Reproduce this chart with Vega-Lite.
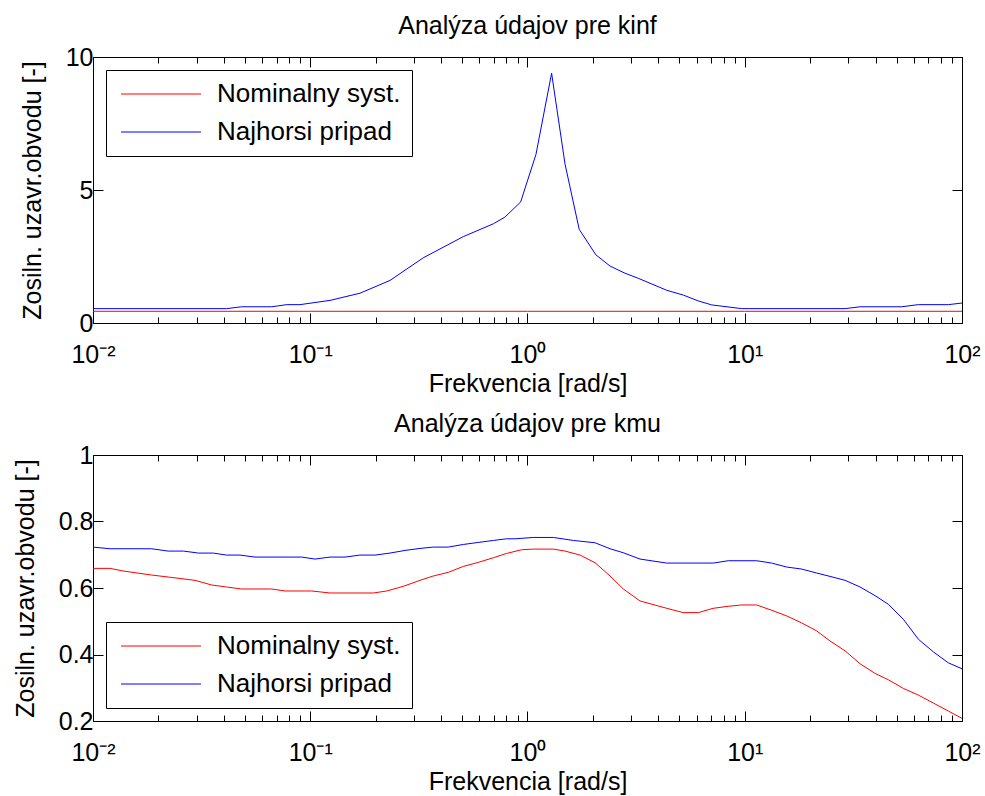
{
  "$schema": "https://vega.github.io/schema/vega-lite/v6.json",
  "padding": {"left": 12, "top": 13, "right": 5, "bottom": 0},
  "spacing": 14,
  "config": {
    "font": "Liberation Sans",
    "view": {"stroke": "black", "strokeWidth": 1},
    "axis": {
      "labelFont": "Liberation Sans",
      "labelFontSize": 25,
      "labelColor": "black",
      "titleFont": "Liberation Sans",
      "titleFontSize": 25,
      "titleFontWeight": "normal",
      "titleColor": "black",
      "grid": false,
      "domain": false,
      "tickColor": "black",
      "tickWidth": 1,
      "labelOverlap": false,
      "labelBound": false,
      "labelFlush": false
    },
    "title": {"font": "Liberation Sans", "fontSize": 25, "fontWeight": "normal", "color": "black", "offset": 6},
    "legend": {
      "title": null,
      "labelFont": "Liberation Sans",
      "labelFontSize": 26,
      "labelColor": "black",
      "labelLimit": 400,
      "padding": 11,
      "strokeColor": "black",
      "fillColor": "white",
      "symbolType": "M-4,0H4",
      "symbolSize": 400,
      "symbolStrokeWidth": 1,
      "symbolOffset": 31,
      "labelOffset": 43,
      "rowPadding": 12,
      "offset": 13
    }
  },
  "datasets": {
    "kinf": [
      {"f": 0.01, "v": 0.44, "series": "Nominalny syst."},
      {"f": 0.1, "v": 0.44, "series": "Nominalny syst."},
      {"f": 1, "v": 0.44, "series": "Nominalny syst."},
      {"f": 10, "v": 0.44, "series": "Nominalny syst."},
      {"f": 100, "v": 0.44, "series": "Nominalny syst."},
      {"f": 0.01, "v": 0.54, "series": "Najhorsi pripad"},
      {"f": 0.0412, "v": 0.54, "series": "Najhorsi pripad"},
      {"f": 0.0483, "v": 0.61, "series": "Najhorsi pripad"},
      {"f": 0.0665, "v": 0.61, "series": "Najhorsi pripad"},
      {"f": 0.078, "v": 0.69, "series": "Najhorsi pripad"},
      {"f": 0.0897, "v": 0.69, "series": "Najhorsi pripad"},
      {"f": 0.1233, "v": 0.85, "series": "Najhorsi pripad"},
      {"f": 0.1694, "v": 1.12, "series": "Najhorsi pripad"},
      {"f": 0.2328, "v": 1.6, "series": "Najhorsi pripad"},
      {"f": 0.3311, "v": 2.45, "series": "Najhorsi pripad"},
      {"f": 0.507, "v": 3.25, "series": "Najhorsi pripad"},
      {"f": 0.6966, "v": 3.73, "series": "Najhorsi pripad"},
      {"f": 0.787, "v": 3.98, "series": "Najhorsi pripad"},
      {"f": 0.93, "v": 4.55, "series": "Najhorsi pripad"},
      {"f": 1.094, "v": 6.34, "series": "Najhorsi pripad"},
      {"f": 1.291, "v": 9.39, "series": "Najhorsi pripad"},
      {"f": 1.489, "v": 5.97, "series": "Najhorsi pripad"},
      {"f": 1.73, "v": 3.52, "series": "Najhorsi pripad"},
      {"f": 2.065, "v": 2.56, "series": "Najhorsi pripad"},
      {"f": 2.399, "v": 2.14, "series": "Najhorsi pripad"},
      {"f": 2.812, "v": 1.87, "series": "Najhorsi pripad"},
      {"f": 3.236, "v": 1.68, "series": "Najhorsi pripad"},
      {"f": 4.375, "v": 1.23, "series": "Najhorsi pripad"},
      {"f": 5.212, "v": 1.05, "series": "Najhorsi pripad"},
      {"f": 6.109, "v": 0.83, "series": "Najhorsi pripad"},
      {"f": 7.047, "v": 0.68, "series": "Najhorsi pripad"},
      {"f": 9.683, "v": 0.54, "series": "Najhorsi pripad"},
      {"f": 28.97, "v": 0.54, "series": "Najhorsi pripad"},
      {"f": 33.96, "v": 0.61, "series": "Najhorsi pripad"},
      {"f": 52.72, "v": 0.61, "series": "Najhorsi pripad"},
      {"f": 62.95, "v": 0.69, "series": "Najhorsi pripad"},
      {"f": 86.5, "v": 0.69, "series": "Najhorsi pripad"},
      {"f": 100, "v": 0.75, "series": "Najhorsi pripad"}
    ],
    "kmu": [
      {"f": 0.01, "v": 0.659, "series": "Nominalny syst."},
      {"f": 0.012, "v": 0.659, "series": "Nominalny syst."},
      {"f": 0.0138, "v": 0.651, "series": "Nominalny syst."},
      {"f": 0.0186, "v": 0.639, "series": "Nominalny syst."},
      {"f": 0.0222, "v": 0.633, "series": "Nominalny syst."},
      {"f": 0.0295, "v": 0.623, "series": "Nominalny syst."},
      {"f": 0.0352, "v": 0.609, "series": "Nominalny syst."},
      {"f": 0.0412, "v": 0.603, "series": "Nominalny syst."},
      {"f": 0.0483, "v": 0.597, "series": "Nominalny syst."},
      {"f": 0.0665, "v": 0.597, "series": "Nominalny syst."},
      {"f": 0.0766, "v": 0.591, "series": "Nominalny syst."},
      {"f": 0.1016, "v": 0.591, "series": "Nominalny syst."},
      {"f": 0.1233, "v": 0.585, "series": "Nominalny syst."},
      {"f": 0.195, "v": 0.585, "series": "Nominalny syst."},
      {"f": 0.2249, "v": 0.591, "series": "Nominalny syst."},
      {"f": 0.2679, "v": 0.605, "series": "Nominalny syst."},
      {"f": 0.3199, "v": 0.623, "series": "Nominalny syst."},
      {"f": 0.3681, "v": 0.636, "series": "Nominalny syst."},
      {"f": 0.4315, "v": 0.647, "series": "Nominalny syst."},
      {"f": 0.507, "v": 0.665, "series": "Nominalny syst."},
      {"f": 0.5929, "v": 0.677, "series": "Nominalny syst."},
      {"f": 0.6966, "v": 0.691, "series": "Nominalny syst."},
      {"f": 0.8017, "v": 0.704, "series": "Nominalny syst."},
      {"f": 0.9397, "v": 0.715, "series": "Nominalny syst."},
      {"f": 1.064, "v": 0.717, "series": "Nominalny syst."},
      {"f": 1.315, "v": 0.717, "series": "Nominalny syst."},
      {"f": 1.489, "v": 0.711, "series": "Nominalny syst."},
      {"f": 1.746, "v": 0.699, "series": "Nominalny syst."},
      {"f": 2.046, "v": 0.676, "series": "Nominalny syst."},
      {"f": 2.399, "v": 0.636, "series": "Nominalny syst."},
      {"f": 2.761, "v": 0.597, "series": "Nominalny syst."},
      {"f": 3.296, "v": 0.561, "series": "Nominalny syst."},
      {"f": 4.375, "v": 0.539, "series": "Nominalny syst."},
      {"f": 5.212, "v": 0.526, "series": "Nominalny syst."},
      {"f": 6.109, "v": 0.526, "series": "Nominalny syst."},
      {"f": 7.161, "v": 0.539, "series": "Nominalny syst."},
      {"f": 8.395, "v": 0.545, "series": "Nominalny syst."},
      {"f": 9.683, "v": 0.549, "series": "Nominalny syst."},
      {"f": 11.35, "v": 0.549, "series": "Nominalny syst."},
      {"f": 13.3, "v": 0.533, "series": "Nominalny syst."},
      {"f": 15.6, "v": 0.516, "series": "Nominalny syst."},
      {"f": 18.28, "v": 0.495, "series": "Nominalny syst."},
      {"f": 21.43, "v": 0.471, "series": "Nominalny syst."},
      {"f": 24.66, "v": 0.441, "series": "Nominalny syst."},
      {"f": 28.97, "v": 0.411, "series": "Nominalny syst."},
      {"f": 33.96, "v": 0.372, "series": "Nominalny syst."},
      {"f": 39.81, "v": 0.343, "series": "Nominalny syst."},
      {"f": 45.81, "v": 0.324, "series": "Nominalny syst."},
      {"f": 53.7, "v": 0.298, "series": "Nominalny syst."},
      {"f": 62.95, "v": 0.278, "series": "Nominalny syst."},
      {"f": 73.79, "v": 0.254, "series": "Nominalny syst."},
      {"f": 86.5, "v": 0.23, "series": "Nominalny syst."},
      {"f": 100, "v": 0.208, "series": "Nominalny syst."},
      {"f": 0.01, "v": 0.723, "series": "Najhorsi pripad"},
      {"f": 0.012, "v": 0.718, "series": "Najhorsi pripad"},
      {"f": 0.0186, "v": 0.718, "series": "Najhorsi pripad"},
      {"f": 0.0222, "v": 0.711, "series": "Najhorsi pripad"},
      {"f": 0.0261, "v": 0.711, "series": "Najhorsi pripad"},
      {"f": 0.0306, "v": 0.705, "series": "Najhorsi pripad"},
      {"f": 0.0358, "v": 0.705, "series": "Najhorsi pripad"},
      {"f": 0.0412, "v": 0.699, "series": "Najhorsi pripad"},
      {"f": 0.0475, "v": 0.699, "series": "Najhorsi pripad"},
      {"f": 0.0557, "v": 0.693, "series": "Najhorsi pripad"},
      {"f": 0.0914, "v": 0.693, "series": "Najhorsi pripad"},
      {"f": 0.1052, "v": 0.687, "series": "Najhorsi pripad"},
      {"f": 0.1233, "v": 0.693, "series": "Najhorsi pripad"},
      {"f": 0.1445, "v": 0.693, "series": "Najhorsi pripad"},
      {"f": 0.1694, "v": 0.699, "series": "Najhorsi pripad"},
      {"f": 0.1986, "v": 0.699, "series": "Najhorsi pripad"},
      {"f": 0.2328, "v": 0.705, "series": "Najhorsi pripad"},
      {"f": 0.2729, "v": 0.713, "series": "Najhorsi pripad"},
      {"f": 0.3199, "v": 0.719, "series": "Najhorsi pripad"},
      {"f": 0.3681, "v": 0.723, "series": "Najhorsi pripad"},
      {"f": 0.4315, "v": 0.723, "series": "Najhorsi pripad"},
      {"f": 0.507, "v": 0.731, "series": "Najhorsi pripad"},
      {"f": 0.5929, "v": 0.737, "series": "Najhorsi pripad"},
      {"f": 0.6966, "v": 0.743, "series": "Najhorsi pripad"},
      {"f": 0.8017, "v": 0.748, "series": "Najhorsi pripad"},
      {"f": 0.877, "v": 0.748, "series": "Najhorsi pripad"},
      {"f": 1.064, "v": 0.752, "series": "Najhorsi pripad"},
      {"f": 1.315, "v": 0.752, "series": "Najhorsi pripad"},
      {"f": 1.626, "v": 0.743, "series": "Najhorsi pripad"},
      {"f": 2.046, "v": 0.736, "series": "Najhorsi pripad"},
      {"f": 2.399, "v": 0.718, "series": "Najhorsi pripad"},
      {"f": 2.761, "v": 0.706, "series": "Najhorsi pripad"},
      {"f": 3.296, "v": 0.687, "series": "Najhorsi pripad"},
      {"f": 4.375, "v": 0.675, "series": "Najhorsi pripad"},
      {"f": 7.161, "v": 0.675, "series": "Najhorsi pripad"},
      {"f": 8.395, "v": 0.682, "series": "Najhorsi pripad"},
      {"f": 11.35, "v": 0.682, "series": "Najhorsi pripad"},
      {"f": 13.3, "v": 0.675, "series": "Najhorsi pripad"},
      {"f": 15.6, "v": 0.663, "series": "Najhorsi pripad"},
      {"f": 18.28, "v": 0.657, "series": "Najhorsi pripad"},
      {"f": 21.43, "v": 0.645, "series": "Najhorsi pripad"},
      {"f": 24.66, "v": 0.635, "series": "Najhorsi pripad"},
      {"f": 28.97, "v": 0.623, "series": "Najhorsi pripad"},
      {"f": 33.96, "v": 0.603, "series": "Najhorsi pripad"},
      {"f": 39.81, "v": 0.577, "series": "Najhorsi pripad"},
      {"f": 45.81, "v": 0.551, "series": "Najhorsi pripad"},
      {"f": 53.7, "v": 0.506, "series": "Najhorsi pripad"},
      {"f": 62.95, "v": 0.446, "series": "Najhorsi pripad"},
      {"f": 73.79, "v": 0.408, "series": "Najhorsi pripad"},
      {"f": 86.5, "v": 0.375, "series": "Najhorsi pripad"},
      {"f": 100, "v": 0.357, "series": "Najhorsi pripad"}
    ]
  },
  "vconcat": [
    {
      "title": "Analýza údajov pre kinf",
      "width": 869,
      "height": 266,
      "data": {"name": "kinf"},
      "layer": [
        {
          "mark": {"type": "line", "strokeWidth": 1},
          "encoding": {
            "x": {
              "field": "f", "type": "quantitative",
              "scale": {"type": "log", "domain": [0.01, 100], "nice": false},
              "axis": {
                "orient": "bottom",
                "title": "Frekvencia [rad/s]",
                "values": [0.01,0.02,0.03,0.04,0.05,0.06,0.07,0.08,0.09,0.1,0.2,0.3,0.4,0.5,0.6,0.7,0.8,0.9,1,2,3,4,5,6,7,8,9,10,20,30,40,50,60,70,80,90,100],
                "tickSize": {"condition": {"test": "datum.value === 0.01 || datum.value === 0.1 || datum.value === 1 || datum.value === 10 || datum.value === 100", "value": -10}, "value": -6},
                "labelExpr": "datum.value === 0.01 ? '10⁻²' : datum.value === 0.1 ? '10⁻¹' : datum.value === 1 ? '10⁰' : datum.value === 10 ? '10¹' : datum.value === 100 ? '10²' : ''",
                "labelPadding": 29,
                "titlePadding": 0
              }
            },
            "y": {
              "field": "v", "type": "quantitative",
              "scale": {"domain": [0, 10], "nice": false, "zero": false},
              "axis": {
                "orient": "left",
                "title": "Zosiln. uzavr.obvodu [-]",
                "values": [0, 5, 10],
                "format": ".1~f",
                "tickSize": -10,
                "labelPadding": 10,
                "titlePadding": 20
              }
            },
            "color": {
              "field": "series", "type": "nominal",
              "scale": {"domain": ["Nominalny syst.", "Najhorsi pripad"], "range": ["#ff0000", "#0000ff"]},
              "legend": {"orient": "top-left"}
            }
          }
        },
        {
          "mark": {"type": "line", "opacity": 0},
          "encoding": {
            "x": {
              "field": "f", "type": "quantitative",
              "axis": {
                "orient": "top", "title": null, "labels": false,
                "values": [0.01,0.02,0.03,0.04,0.05,0.06,0.07,0.08,0.09,0.1,0.2,0.3,0.4,0.5,0.6,0.7,0.8,0.9,1,2,3,4,5,6,7,8,9,10,20,30,40,50,60,70,80,90,100],
                "tickSize": {"condition": {"test": "datum.value === 0.01 || datum.value === 0.1 || datum.value === 1 || datum.value === 10 || datum.value === 100", "value": -10}, "value": -6}
              }
            },
            "y": {
              "field": "v", "type": "quantitative",
              "axis": {"orient": "right", "title": null, "labels": false, "values": [0, 5, 10], "tickSize": -10}
            },
            "detail": {"field": "series"}
          }
        }
      ],
      "resolve": {"axis": {"x": "independent", "y": "independent"}}
    },
    {
      "title": "Analýza údajov pre kmu",
      "width": 869,
      "height": 266,
      "data": {"name": "kmu"},
      "layer": [
        {
          "mark": {"type": "line", "strokeWidth": 1},
          "encoding": {
            "x": {
              "field": "f", "type": "quantitative",
              "scale": {"type": "log", "domain": [0.01, 100], "nice": false},
              "axis": {
                "orient": "bottom",
                "title": "Frekvencia [rad/s]",
                "values": [0.01,0.02,0.03,0.04,0.05,0.06,0.07,0.08,0.09,0.1,0.2,0.3,0.4,0.5,0.6,0.7,0.8,0.9,1,2,3,4,5,6,7,8,9,10,20,30,40,50,60,70,80,90,100],
                "tickSize": {"condition": {"test": "datum.value === 0.01 || datum.value === 0.1 || datum.value === 1 || datum.value === 10 || datum.value === 100", "value": -10}, "value": -6},
                "labelExpr": "datum.value === 0.01 ? '10⁻²' : datum.value === 0.1 ? '10⁻¹' : datum.value === 1 ? '10⁰' : datum.value === 10 ? '10¹' : datum.value === 100 ? '10²' : ''",
                "labelPadding": 29,
                "titlePadding": 0
              }
            },
            "y": {
              "field": "v", "type": "quantitative",
              "scale": {"domain": [0.2, 1], "nice": false, "zero": false},
              "axis": {
                "orient": "left",
                "title": "Zosiln. uzavr.obvodu [-]",
                "values": [0.2, 0.4, 0.6, 0.8, 1],
                "format": ".1~f",
                "tickSize": -10,
                "labelPadding": 10,
                "titlePadding": 20
              }
            },
            "color": {
              "field": "series", "type": "nominal",
              "scale": {"domain": ["Nominalny syst.", "Najhorsi pripad"], "range": ["#ff0000", "#0000ff"]},
              "legend": {"orient": "bottom-left"}
            }
          }
        },
        {
          "mark": {"type": "line", "opacity": 0},
          "encoding": {
            "x": {
              "field": "f", "type": "quantitative",
              "axis": {
                "orient": "top", "title": null, "labels": false,
                "values": [0.01,0.02,0.03,0.04,0.05,0.06,0.07,0.08,0.09,0.1,0.2,0.3,0.4,0.5,0.6,0.7,0.8,0.9,1,2,3,4,5,6,7,8,9,10,20,30,40,50,60,70,80,90,100],
                "tickSize": {"condition": {"test": "datum.value === 0.01 || datum.value === 0.1 || datum.value === 1 || datum.value === 10 || datum.value === 100", "value": -10}, "value": -6}
              }
            },
            "y": {
              "field": "v", "type": "quantitative",
              "axis": {"orient": "right", "title": null, "labels": false, "values": [0.2, 0.4, 0.6, 0.8, 1], "tickSize": -10}
            },
            "detail": {"field": "series"}
          }
        }
      ],
      "resolve": {"axis": {"x": "independent", "y": "independent"}}
    }
  ]
}
